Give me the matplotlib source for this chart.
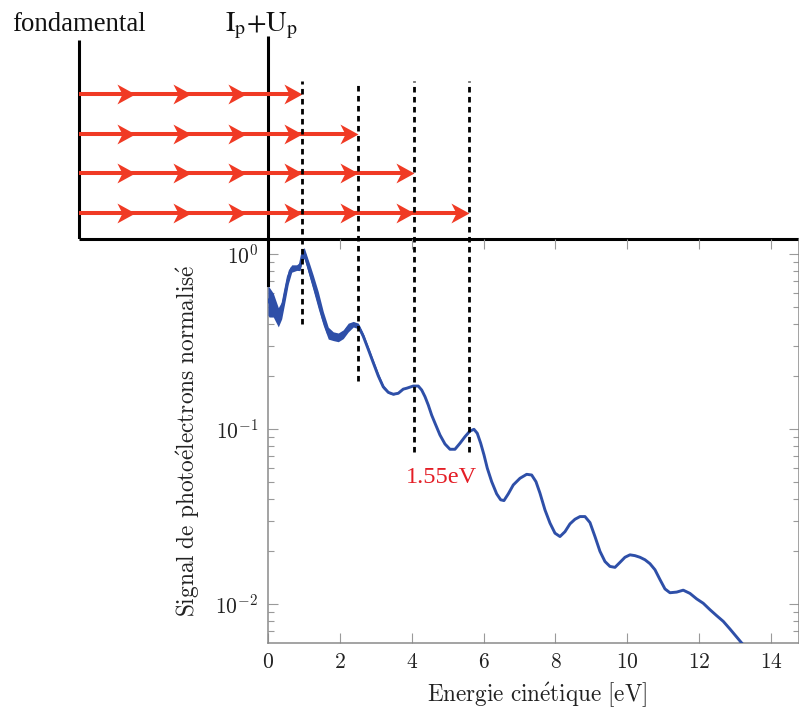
import numpy as np
import matplotlib
matplotlib.use("Agg")
import matplotlib.pyplot as plt
from matplotlib.path import Path

plt.rcParams['mathtext.fontset'] = 'cm'
plt.rcParams['font.family'] = ['serif']
plt.rcParams['font.serif'] = ['cmr10', 'DejaVu Serif']
plt.rcParams['axes.formatter.use_mathtext'] = True

# ---------------- data ----------------
energy = [0.0, 0.028, 0.148, 0.287, 0.381, 0.473, 0.565, 0.660, 0.799, 0.891,
          0.955, 1.010, 1.077, 1.169, 1.261, 1.400, 1.539, 1.678, 1.817, 1.956,
          2.095, 2.234, 2.374, 2.513, 2.652, 2.792, 2.931, 3.070, 3.209, 3.348,
          3.487, 3.626, 3.765,
          3.860, 4.044, 4.183, 4.278, 4.370, 4.462, 4.556, 4.648, 4.787, 4.926,
          5.065, 5.204, 5.344, 5.483, 5.622, 5.733, 5.825, 5.920, 6.012, 6.104,
          6.226, 6.365, 6.476, 6.568, 6.688, 6.827, 7.014, 7.200, 7.339, 7.459,
          7.570, 7.709, 7.849, 7.988,
          8.127, 8.266, 8.405, 8.544, 8.684, 8.823, 8.962, 9.101, 9.240, 9.379,
          9.518, 9.658, 9.797, 9.936, 10.075, 10.214, 10.353, 10.493, 10.632, 10.771,
          10.910, 11.049, 11.188, 11.375, 11.558, 11.745, 11.931, 12.115, 12.302, 12.488,
          12.672, 12.858, 13.045, 13.184]
signal = [0.545, 0.532, 0.510, 0.435, 0.477, 0.597, 0.739, 0.826, 0.836, 0.851,
          0.983, 1.013, 0.912, 0.789, 0.683, 0.544, 0.428, 0.353, 0.339, 0.334,
          0.348, 0.380, 0.397, 0.388, 0.339, 0.285, 0.239, 0.201, 0.174, 0.162,
          0.158, 0.160, 0.169,
          0.171, 0.176, 0.176, 0.167, 0.153, 0.137, 0.120, 0.108, 0.0924, 0.0821,
          0.0766, 0.0766, 0.0829, 0.0904, 0.0974, 0.0996, 0.0945, 0.0829, 0.0711, 0.0597,
          0.0500, 0.0426, 0.0394, 0.0390, 0.0426, 0.0479, 0.0523, 0.0551, 0.0546, 0.0500,
          0.0430, 0.0345, 0.0290, 0.0254,
          0.0243, 0.0259, 0.0287, 0.0305, 0.0316, 0.0316, 0.0292, 0.0243, 0.0200, 0.0175,
          0.0164, 0.0162, 0.0173, 0.0185, 0.0191, 0.0189, 0.0185, 0.0179, 0.0170, 0.0157,
          0.0138, 0.0122, 0.0116, 0.0117, 0.0120, 0.0115, 0.0107, 0.0101, 0.00928, 0.00858,
          0.00796, 0.00720, 0.00648, 0.00599]
# half width of the noisy band at low energy (decades)
noise_dex = [0.086, 0.086, 0.068, 0.055, 0.049, 0.049, 0.040, 0.021, 0.016, 0.025,
             0.034, 0.030, 0.034, 0.040, 0.044, 0.049, 0.040, 0.034, 0.025, 0.025,
             0.025, 0.025, 0.016, 0.016, 0.016, 0.016, 0.016, 0.016, 0.011, 0.006,
             0.004, 0.0, 0.0] + [0.0] * 68

photon_energy = 1.55
ati_peaks = [0.95, 2.50, 4.05, 5.60]
photons_per_row = [4, 5, 6, 7]
dash_bottom = [0.40, 0.187, 0.074, 0.074]
xticks = [0, 2, 4, 6, 8, 10, 12, 14]
x_max = 14.78
y_lim = (10 ** -2.221, 10 ** 0.084)

blue = '#2e4fa8'
red = '#f03a24'

# ---------------- figure ----------------
W, H = 799, 709
fig = plt.figure(figsize=(W / 100, H / 100), dpi=100)

L = 268 / W
B = 1 - 642.7 / H
T = 1 - 239.3 / H
ax = fig.add_axes([L, B, 1 - L, T - B])
ax.set_zorder(2)
ax.patch.set_alpha(0)

dax = fig.add_axes([0, T, 1, 1 - T])
dax.set_zorder(1)
dax.set_xlim(-L * x_max / (1 - L), x_max)
dax.set_ylim(0, 6.03)
dax.axis('off')

# ---- main curve ----
e = np.array(energy)
s = np.array(signal)
nd = np.array(noise_dex)
ax.fill_between(e, s * 10 ** (-nd), s * 10 ** nd, color=blue, lw=0, zorder=3)
ax.plot(e, s, color=blue, lw=2.1, zorder=4, solid_joinstyle='round')

ax.set_yscale('log')
ax.set_xlim(0, x_max)
ax.set_ylim(*y_lim)
ax.set_xticks(xticks)

gray = '#8a8a8a'
for side in ['left', 'bottom', 'right']:
    ax.spines[side].set_color(gray)
    ax.spines[side].set_linewidth(1.1)
ax.spines['top'].set_visible(False)
ax.tick_params(which='both', direction='in', top=True, right=True,
               color='#9a9a9a', width=0.8, labelsize=15.5, labelcolor='#222222', pad=7)
ax.tick_params(which='major', length=7)
ax.tick_params(which='minor', length=4.3)
ax.tick_params(axis='x', which='minor', bottom=False, top=False)

ax.set_xlabel(r'$\mathrm{Energie\ cin\acute{e}tique\ [eV]}$', fontsize=16.7, color='#222222')
ax.set_ylabel(r'$\mathrm{Signal\ de\ photo\acute{e}lectrons\ normalis\acute{e}}$', fontsize=16.8,
              color='#222222')
ax.xaxis.set_label_coords(0.507, -0.094)
ax.yaxis.set_label_coords(-0.124, 0.5)
ax.xaxis.label.set_va('top')

# dashed lines (ATI peaks) extending up into the diagram
dash_top = 10 ** ((253.7 - 80) / 175.3)
for xp, yb in zip(ati_peaks, dash_bottom):
    ax.plot([xp, xp], [yb, dash_top], color='black', lw=2.0, ls=(0, (2.0, 1.6)),
            clip_on=False, zorder=6)

# Ip+Up line: part inside the plot
ip_bottom = 10 ** ((253.7 - 285) / 175.3)
ax.plot([0, 0], [ip_bottom, y_lim[1]], color='black', lw=2.2, clip_on=False, zorder=5)

# 1.55 eV label
ax.text((ati_peaks[2] + ati_peaks[3]) / 2, 10 ** ((253.7 - 478) / 175.3), '1.55eV',
        color='#e41e26', fontsize=17.5, family='Liberation Serif', ha='center', va='center')

# ---- diagram ----
ground = ati_peaks[0] - photons_per_row[0] * photon_energy
row_levels = [3.663, 2.663, 1.663, 0.663]

dax.plot([ground, x_max], [0, 0], color='black', lw=2.2, clip_on=False, solid_capstyle='butt')
dax.plot([ground, ground], [0, 5.02], color='black', lw=2.2, solid_capstyle='butt')
dax.plot([0, 0], [0, 5.12], color='black', lw=2.2, solid_capstyle='butt')

stealth = Path([(0, 0), (-1, 0.55), (-0.72, 0), (-1, -0.55), (0, 0)],
               [Path.MOVETO, Path.LINETO, Path.LINETO, Path.LINETO, Path.CLOSEPOLY])
for n, yl in zip(photons_per_row, row_levels):
    ends = ground + photon_energy * np.arange(1, n + 1)
    dax.plot([ground, ends[-1] - 0.15], [yl, yl], color=red, lw=2.9, solid_capstyle='butt')
    dax.plot(ends, [yl] * n, ls='none', marker=stealth, ms=26, color=red, mec=red, mew=0)

dax.text(ground, 5.24, 'fondamental', family='Liberation Serif', fontsize=19.3,
         ha='center', va='baseline', color='#111111')
dax.text(-0.19, 5.24, r'$\mathrm{I_p{+}U_p}$', math_fontfamily='stix', fontsize=20.5,
         ha='center', va='baseline', color='#111111')

fig.savefig('out.png', dpi=100)
